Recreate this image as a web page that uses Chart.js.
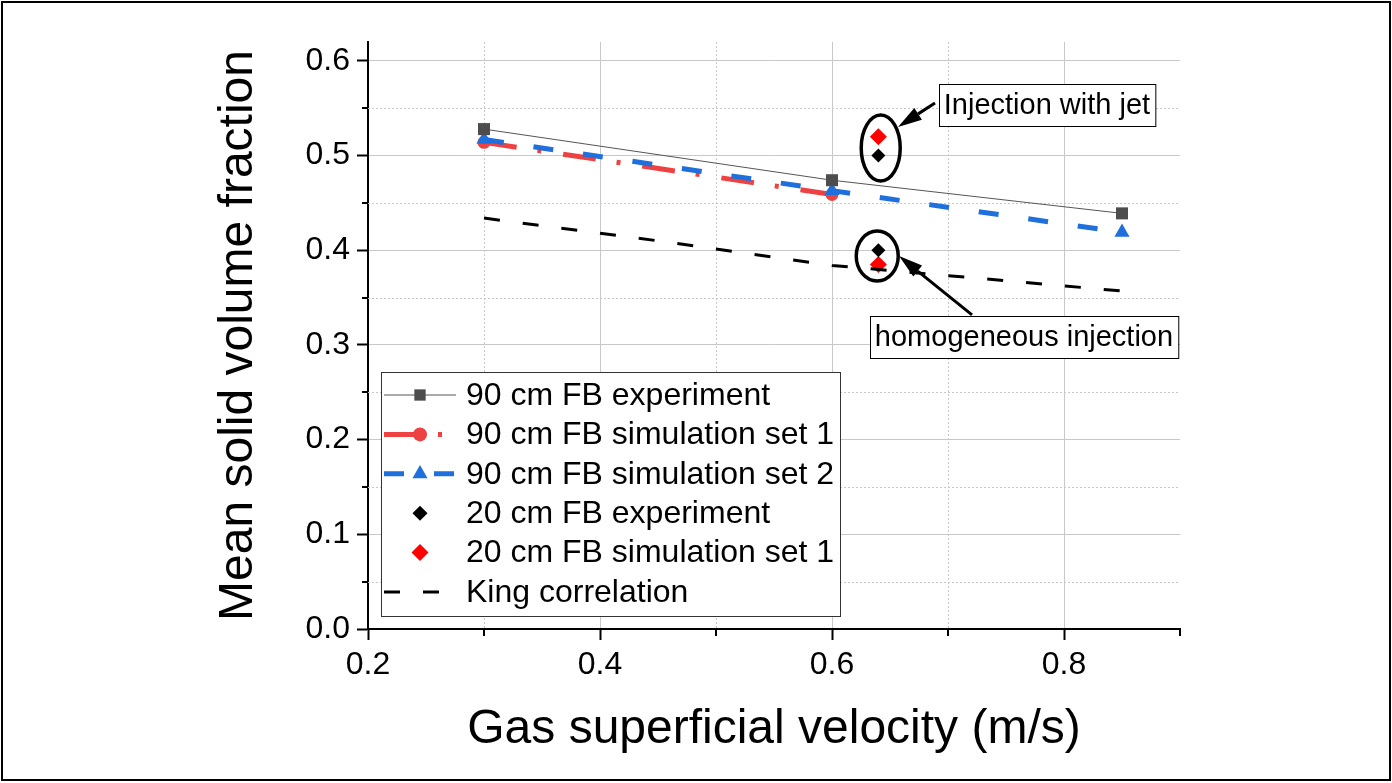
<!DOCTYPE html>
<html>
<head>
<meta charset="utf-8">
<script src="https://cdn.jsdelivr.net/npm/chart.js@4.4.0/dist/chart.umd.min.js"></script>
<style>
    html, body { margin: 0; padding: 0; background: #fff; }
    #wrap { width: 1392px; height: 783px; position: relative; }
</style>
</head>
<body>
<div id="wrap"><canvas id="solidFraction"></canvas></div>
<script>
// values
const velocity90 = [0.3, 0.6, 0.85];
const experiment90 = [0.528, 0.474, 0.439];
const velocitySim1 = [0.3, 0.6];
const simulationSet1 = [0.514, 0.459];
const simulationSet2 = [0.517, 0.463, 0.419];
const velocity20 = [0.64, 0.64];
const experiment20 = [0.500, 0.400];
const simulation20 = [0.520, 0.385];
const velocityKing = [0.3, 0.45, 0.6, 0.85];
const kingCorrelation = [0.434, 0.410, 0.384, 0.357];

const FONT = "'Liberation Sans', Arial, sans-serif";
const RED = '#ee4242';
const BLUE = '#1f6fdc';

const toPoints = (xs, ys) => ys.map((y, i) => ({ x: xs[i], y: y }));
const yMajor = v => Math.round(v * 100) % 10 === 0;
const xMajor = v => Math.round(v * 100) % 20 === 0;

// small marker helper for the legend
function marker(ctx, style, x, y, r, color) {
    ctx.save();
    ctx.fillStyle = color;
    ctx.beginPath();
    if (style === 'rect') {
        const s = r * Math.SQRT1_2;
        ctx.rect(x - s, y - s, 2 * s, 2 * s);
    } else if (style === 'circle') {
        ctx.arc(x, y, r, 0, Math.PI * 2);
    } else if (style === 'triangle') {
        for (let k = 0; k < 3; k++) {
            const a = k * Math.PI * 2 / 3;
            const px = x + Math.sin(a) * r, py = y - Math.cos(a) * r;
            k === 0 ? ctx.moveTo(px, py) : ctx.lineTo(px, py);
        }
        ctx.closePath();
    } else if (style === 'rectRot') {
        ctx.moveTo(x - r, y); ctx.lineTo(x, y - r); ctx.lineTo(x + r, y); ctx.lineTo(x, y + r);
        ctx.closePath();
    }
    ctx.fill();
    ctx.restore();
}

const gridAndTicks = {
    id: 'gridAndTicks',
    beforeDatasetsDraw(chart) {
        const { ctx, chartArea: a, scales: { x, y } } = chart;
        ctx.save();
        ctx.strokeStyle = '#c8c8c8';
        ctx.lineWidth = 1;
        ctx.setLineDash([2, 2]);
        y.ticks.forEach(t => {
            if (yMajor(t.value)) return;
            const py = Math.round(y.getPixelForValue(t.value)) + 0.5;
            ctx.beginPath(); ctx.moveTo(a.left, py); ctx.lineTo(a.right, py); ctx.stroke();
        });
        x.ticks.forEach(t => {
            if (xMajor(t.value) || t.value >= x.max) return;
            const px = Math.round(x.getPixelForValue(t.value)) + 0.5;
            ctx.beginPath(); ctx.moveTo(px, a.top); ctx.lineTo(px, a.bottom); ctx.stroke();
        });
        ctx.setLineDash([]);
        ctx.strokeStyle = '#000';
        ctx.lineWidth = 2;
        y.ticks.forEach(t => {
            if (yMajor(t.value)) return;
            const py = Math.round(y.getPixelForValue(t.value));
            ctx.beginPath(); ctx.moveTo(a.left - 6, py); ctx.lineTo(a.left, py); ctx.stroke();
        });
        x.ticks.forEach(t => {
            if (xMajor(t.value)) return;
            const px = Math.round(x.getPixelForValue(t.value));
            ctx.beginPath(); ctx.moveTo(px, a.bottom); ctx.lineTo(px, a.bottom + 7); ctx.stroke();
        });
        ctx.restore();
    }
};

const boxLegend = {
    id: 'boxLegend',
    afterDraw(chart) {
        const { ctx } = chart;
        const left = 381, top = 372, right = 840, bottom = 616;
        ctx.save();
        ctx.fillStyle = '#fff';
        ctx.fillRect(left, top, right - left, bottom - top);
        ctx.strokeStyle = '#333';
        ctx.lineWidth = 1;
        ctx.strokeRect(left + 0.5, top + 0.5, right - left, bottom - top);
        chart.data.datasets.forEach((ds, i) => {
            const cy = 395 + i * 39.4;
            if (ds.showLine !== false) {
                ctx.strokeStyle = ds.borderColor;
                ctx.lineWidth = ds.borderWidth;
                ctx.setLineDash(ds.borderDash || []);
                ctx.beginPath(); ctx.moveTo(384, cy); ctx.lineTo(456, cy); ctx.stroke();
                ctx.setLineDash([]);
            }
            if (ds.pointRadius > 0) {
                marker(ctx, ds.pointStyle, 420, cy, ds.legendRadius || ds.pointRadius, ds.pointBackgroundColor);
            }
            ctx.fillStyle = '#000';
            ctx.font = '32px ' + FONT;
            ctx.textBaseline = 'middle';
            ctx.textAlign = 'left';
            ctx.fillText(ds.label, 466, cy + 1);
        });
        ctx.restore();
    }
};

// callouts for the 20 cm bed points
const callouts = [
    { text: 'Injection with jet', tx: 0.7853, ty: 0.5535, ex: 0.642, ey: 0.508, rx: 19.5, ry: 33,
      from: [0.6888, 0.5556], to: [0.6569, 0.5303] },
    { text: 'homogeneous injection', tx: 0.7655, ty: 0.308, ex: 0.639, ey: 0.394, rx: 21, ry: 25,
      from: [0.7207, 0.3317], to: [0.6578, 0.394] }
];

const calloutPlugin = {
    id: 'callouts',
    afterDraw(chart) {
        const { ctx, scales: { x, y } } = chart;
        ctx.save();
        callouts.forEach(c => {
            // ellipse
            ctx.strokeStyle = '#000';
            ctx.lineWidth = 3.5;
            ctx.beginPath();
            ctx.ellipse(x.getPixelForValue(c.ex), y.getPixelForValue(c.ey), c.rx, c.ry, 0, 0, Math.PI * 2);
            ctx.stroke();
            // arrow
            const x1 = x.getPixelForValue(c.from[0]), y1 = y.getPixelForValue(c.from[1]);
            const x2 = x.getPixelForValue(c.to[0]), y2 = y.getPixelForValue(c.to[1]);
            const ang = Math.atan2(y2 - y1, x2 - x1);
            const hl = 24, hw = 7;
            const bx = x2 - Math.cos(ang) * hl, by = y2 - Math.sin(ang) * hl;
            ctx.lineWidth = 3;
            ctx.beginPath(); ctx.moveTo(x1, y1); ctx.lineTo(bx, by); ctx.stroke();
            ctx.fillStyle = '#000';
            ctx.beginPath();
            ctx.moveTo(x2, y2);
            ctx.lineTo(bx - Math.sin(ang) * hw, by + Math.cos(ang) * hw);
            ctx.lineTo(bx + Math.sin(ang) * hw, by - Math.cos(ang) * hw);
            ctx.closePath(); ctx.fill();
            // label box
            ctx.font = '29px ' + FONT;
            const w = ctx.measureText(c.text).width + 10, h = 42;
            const cx = x.getPixelForValue(c.tx), cy = y.getPixelForValue(c.ty);
            const bx0 = Math.round(cx - w / 2), by0 = Math.round(cy - h / 2);
            ctx.fillStyle = '#fff';
            ctx.fillRect(bx0, by0, w, h);
            ctx.strokeStyle = '#000';
            ctx.lineWidth = 1;
            ctx.strokeRect(bx0 + 0.5, by0 + 0.5, w, h);
            ctx.fillStyle = '#000';
            ctx.textAlign = 'center';
            ctx.textBaseline = 'middle';
            ctx.fillText(c.text, cx, cy + 1);
        });
        // outer frame
        ctx.strokeStyle = '#000';
        ctx.lineWidth = 2;
        ctx.strokeRect(2, 2, 1388, 778);
        ctx.restore();
    }
};

const datasets = [
    {
        label: '90 cm FB experiment',
        data: toPoints(velocity90, experiment90),
        borderColor: '#555555', borderWidth: 1,
        pointStyle: 'rect', pointRadius: 8.5, legendRadius: 8,
        pointBackgroundColor: '#4d4d4d', pointBorderWidth: 0,
        order: 3
    },
    {
        label: '90 cm FB simulation set 1',
        data: toPoints(velocitySim1, simulationSet1),
        borderColor: RED, borderWidth: 5, borderDash: [33, 21, 4, 22],
        pointStyle: 'circle', pointRadius: 6.5, legendRadius: 7,
        pointBackgroundColor: RED, pointBorderWidth: 0,
        order: 5
    },
    {
        label: '90 cm FB simulation set 2',
        data: toPoints(velocity90, simulationSet2),
        borderColor: BLUE, borderWidth: 5, borderDash: [20, 30],
        pointStyle: 'triangle', pointRadius: 8.7,
        pointBackgroundColor: BLUE, pointBorderWidth: 0,
        order: 4
    },
    {
        label: '20 cm FB experiment',
        data: toPoints(velocity20, experiment20),
        showLine: false, borderColor: '#000', borderWidth: 0,
        pointStyle: 'rectRot', pointRadius: 7, legendRadius: 7.5,
        pointBackgroundColor: '#000', pointBorderWidth: 0,
        order: 1
    },
    {
        label: '20 cm FB simulation set 1',
        data: toPoints(velocity20, simulation20),
        showLine: false, borderColor: '#ff0000', borderWidth: 0,
        pointStyle: 'rectRot', pointRadius: 8.5,
        pointBackgroundColor: '#ff0000', pointBorderWidth: 0,
        order: 2
    },
    {
        label: 'King correlation',
        data: toPoints(velocityKing, kingCorrelation),
        borderColor: '#000', borderWidth: 3, borderDash: [16, 23],
        pointRadius: 0,
        order: 0
    }
];

const config = {
    type: 'line',
    data: { datasets: datasets },
    options: {
        responsive: true,
        maintainAspectRatio: false,
        animation: false,
        layout: { padding: { top: 42, right: 212, left: 0, bottom: 0 } },
        plugins: { legend: { display: false }, tooltip: { enabled: false } },
        elements: { line: { tension: 0, fill: false } },
        scales: {
            x: {
                type: 'linear',
                min: 0.2, max: 0.9,
                afterFit: s => { s.height = 154; },
                border: { display: true, color: '#000', width: 2 },
                grid: {
                    color: c => xMajor(c.tick.value) ? '#c8c8c8' : 'rgba(0,0,0,0)',
                    tickColor: c => xMajor(c.tick.value) ? '#000' : 'rgba(0,0,0,0)',
                    tickLength: 11, tickWidth: 2
                },
                ticks: {
                    stepSize: 0.1, autoSkip: false, maxRotation: 0, padding: 6,
                    color: '#000', font: { family: FONT, size: 32 },
                    callback: v => xMajor(v) ? v.toFixed(1) : ''
                },
                title: {
                    display: true, text: 'Gas superficial velocity (m/s)',
                    color: '#000', font: { family: FONT, size: 48 },
                    padding: { top: 0, bottom: 24 }
                }
            },
            y: {
                type: 'linear',
                min: 0, max: 0.62,
                afterFit: s => { s.width = 368; },
                border: { display: true, color: '#000', width: 2 },
                grid: {
                    color: c => yMajor(c.tick.value) ? '#c8c8c8' : 'rgba(0,0,0,0)',
                    tickColor: c => yMajor(c.tick.value) ? '#000' : 'rgba(0,0,0,0)',
                    tickLength: 11, tickWidth: 2
                },
                ticks: {
                    stepSize: 0.05, includeBounds: false, autoSkip: false, padding: 7,
                    color: '#000', font: { family: FONT, size: 32 },
                    callback: v => yMajor(v) ? v.toFixed(1) : ''
                },
                title: {
                    display: true, text: 'Mean solid volume fraction',
                    color: '#000', font: { family: FONT, size: 48 },
                    padding: { top: 210, bottom: 0 }
                }
            }
        }
    },
    plugins: [gridAndTicks, boxLegend, calloutPlugin]
};

const solidChart = new Chart(document.getElementById('solidFraction'), config);
</script>
</body>
</html>
